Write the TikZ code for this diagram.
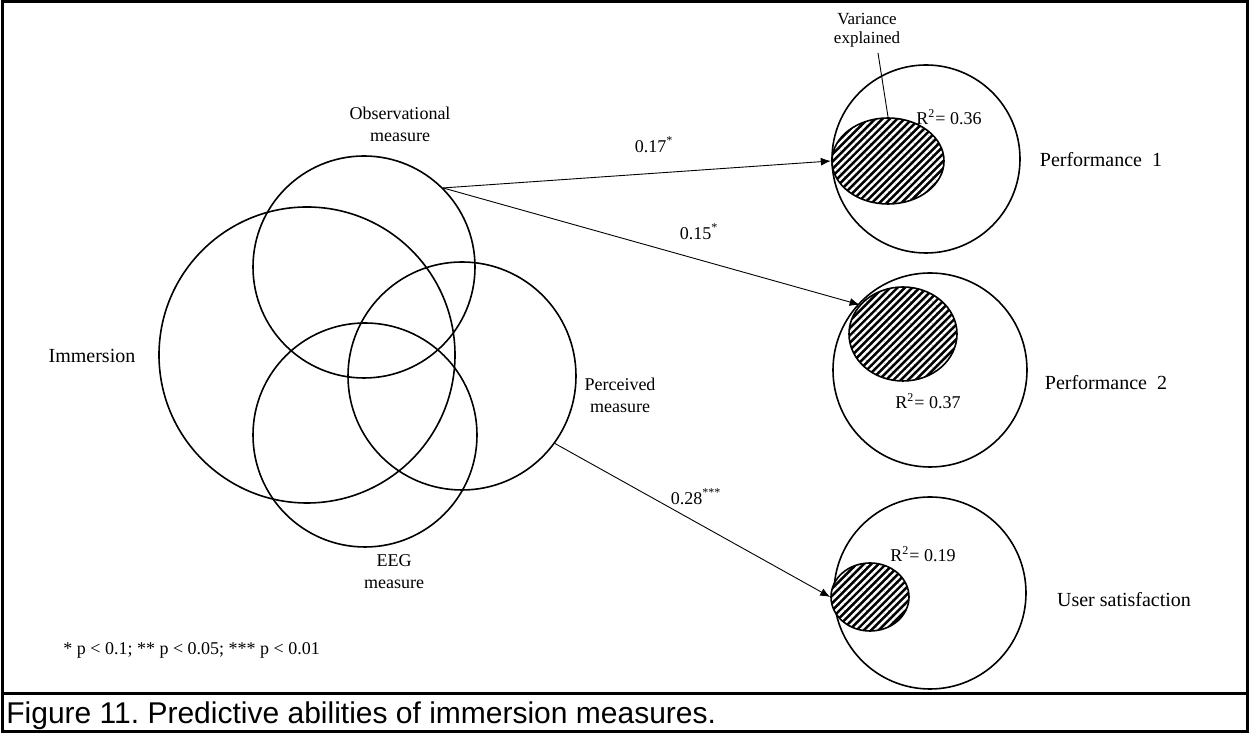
\documentclass[tikz,border=0pt]{standalone}
\usepackage{fontspec}
\setmainfont{Liberation Serif}
\newfontfamily\capfont{Liberation Sans}
\usetikzlibrary{arrows.meta, positioning, shapes.geometric, patterns.meta}
\frenchspacing

\tikzset{
  measure/.style={circle, draw, line width=0.8pt, inner sep=0pt},
  hatched/.style={ellipse, draw, line width=0.8pt, inner sep=0pt,
    preaction={fill=black},
    pattern={Lines[angle=45, distance=2.6pt, line width=1.2pt]}, pattern color=white},
  lbl/.style={font=\fontsize{9}{11}\selectfont, align=center, inner sep=0pt},
  biglbl/.style={font=\fontsize{10}{12}\selectfont, inner sep=0pt},
  link/.style={-{Latex[length=5pt, width=4pt]}, line width=0.45pt},
}

\begin{document}
\begin{tikzpicture}[x=0.5pt, y=0.5pt]
    \useasboundingbox (0,0) rectangle (1249,733);
    % frame and caption
    \draw[line width=1.5pt] (2,1.5) rectangle (1247,731);
    \draw[line width=1.5pt] (2,39) -- (1247,39);
    \node[font=\capfont\fontsize{15}{18}\selectfont, anchor=base west, inner sep=0pt] (cap) at (6,9)
      {Figure 11. Predictive abilities of immersion measures.};
    % immersion measures
    \node[measure, minimum size=148pt] (imm) at (307,378) {};
    \node[measure, minimum size=111pt] (obs) at (364,466) {};
    \node[measure, minimum size=114pt] (perc) at (462,357) {};
    \node[measure, minimum size=112pt] (eeg) at (365,298) {};
    \node[biglbl] (immlbl) at (92,377) {Immersion};
    \node[lbl] (obslbl) at (400,609) {Observational\\measure};
    \node[lbl] (perclbl) at (620,338) {Perceived\\measure};
    \node[lbl] (eeglbl) at (394,161) {EEG\\measure};
    % outcomes
    \node[measure, minimum size=94pt] (perf1) at (926,574) {};
    \node[hatched, minimum width=56pt, minimum height=43pt] (var1) at (888,572) {};
    \node[measure, minimum size=97pt] (perf2) at (930,363) {};
    \node[hatched, minimum width=54pt, minimum height=47pt] (var2) at (903,399) {};
    \node[measure, minimum size=96pt] (usat) at (930,140) {};
    \node[hatched, minimum width=39pt, minimum height=34pt] (var3) at (870,136) {};
    \node[lbl] (r1) at (949,616) {R\textsuperscript{2}= 0.36};
    \node[lbl] (r2) at (928,332) {R\textsuperscript{2}= 0.37};
    \node[lbl] (r3) at (923,179) {R\textsuperscript{2}= 0.19};
    \node[biglbl] (perf1lbl) at (1101,573) {Performance~~1};
    \node[biglbl] (perf2lbl) at (1106,350) {Performance~~2};
    \node[biglbl] (usatlbl) at (1124,133) {User satisfaction};
    % variance explained
    \node[lbl, font=\fontsize{8.5}{9.5}\selectfont] (varlbl) at (867,703) {Variance\\explained};
    \coordinate (vartip) at (878,680);
    \draw[line width=0.45pt] (vartip) -- (var1.north);
    % paths
    \draw[link] (obs.45) -- (var1.west);
    \draw[link] (obs.45) -- (var2.146);
    \draw[link] (perc.-36) -- (var3.west);
    \node[lbl] (b1) at (654,588) {0.17\textsuperscript{*}};
    \node[lbl] (b2) at (699,501) {0.15\textsuperscript{*}};
    \node[lbl] (b3) at (696,236) {0.28\textsuperscript{***}};
    \node[lbl, anchor=west] (sig) at (63,83) {* p < 0.1; ** p < 0.05; *** p < 0.01};
\end{tikzpicture}
\end{document}
